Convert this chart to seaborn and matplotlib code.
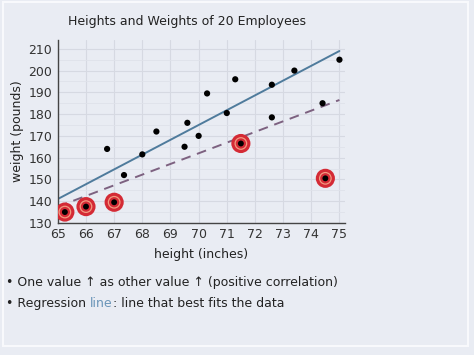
import matplotlib
matplotlib.use('Agg')
import matplotlib.pyplot as plt
import seaborn as sns
import pandas as pd
from matplotlib.patches import Rectangle
from matplotlib.ticker import MultipleLocator

# data
height_black = [66.75, 67.35, 68.0, 68.5, 69.5, 69.6, 70.0, 70.3, 71.0, 71.3,
                72.6, 72.6, 73.4, 74.4, 75.0]
weight_black = [164, 152, 161.5, 172, 165, 176, 170, 189.5, 180.5, 196,
                178.5, 193.5, 200, 185, 205]
height_red = [65.25, 66.0, 67.0, 71.5, 74.5]
weight_red = [135, 137.5, 139.5, 166.5, 150.5]
line_x = [65, 75]
solid_y = [141, 209]
dashed_y = [137.5, 186.5]

bg = '#e9ecf3'
sns.set_style('white')
plt.rcParams['font.family'] = ['DejaVu Sans']
fs = 9

fig = plt.figure(figsize=(4.74, 3.55), dpi=100, facecolor=bg)
ax = fig.add_axes([0.122, 0.372, 0.606, 0.515], facecolor=bg)

df_b = pd.DataFrame({'h': height_black, 'w': weight_black})
df_r = pd.DataFrame({'h': height_red, 'w': weight_red})
df_s = pd.DataFrame({'h': line_x, 'w': solid_y})
df_d = pd.DataFrame({'h': line_x, 'w': dashed_y})

sns.lineplot(data=df_s, x='h', y='w', color='#4f7b9c', lw=1.4, ax=ax)
sns.lineplot(data=df_d, x='h', y='w', color='#7d6180', lw=1.4, ax=ax,
             linestyle=(0, (5, 3.5)))

# circled points: red ring, pale ring, red, black dot
sns.scatterplot(data=df_r, x='h', y='w', s=190, color='#d42a35', edgecolor='none', ax=ax, zorder=3)
sns.scatterplot(data=df_r, x='h', y='w', s=85, color='#f29a80', edgecolor='none', ax=ax, zorder=4)
sns.scatterplot(data=df_r, x='h', y='w', s=55, color='#d42a35', edgecolor='none', ax=ax, zorder=5)
sns.scatterplot(data=df_r, x='h', y='w', s=18, color='black', edgecolor='none', ax=ax, zorder=6)
sns.scatterplot(data=df_b, x='h', y='w', s=20, color='black', edgecolor='none', ax=ax, zorder=6)

ax.set_xlim(65, 75.2)
ax.set_ylim(130, 214)
ax.set_xticks(range(65, 76))
ax.set_yticks(range(130, 211, 10))
ax.yaxis.set_minor_locator(MultipleLocator(5))
ax.grid(True, which='major', color='#d6d9e2', lw=0.8)
ax.grid(True, which='minor', axis='y', color='#dfe2ea', lw=0.6)
ax.set_axisbelow(True)
for s in ['top', 'right']:
    ax.spines[s].set_visible(False)
for s in ['left', 'bottom']:
    ax.spines[s].set_color('#444444')
    ax.spines[s].set_linewidth(1.0)
ax.tick_params(axis='both', which='major', direction='out', length=3, width=1,
               color='#444444', labelsize=fs, labelcolor='#333333', pad=1)
ax.tick_params(axis='y', which='minor', length=0)
ax.set_xlabel('height (inches)', fontsize=fs, color='#222222', labelpad=5)
ax.set_ylabel('weight (pounds)', fontsize=fs, color='#222222', labelpad=3)

fig.text(0.395, 0.94, 'Heights and Weights of 20 Employees', ha='center', va='center',
         fontsize=fs, color='#222222')

t1 = fig.text(0.013, 0.203, '\u2022 One value \u2191 as other value \u2191 (positive correlation)',
              ha='left', va='center', fontsize=fs, color='#222222')
t2 = fig.text(0.013, 0.145, '\u2022 Regression ', ha='left', va='center', fontsize=fs, color='#222222')
fig.canvas.draw()
r = fig.canvas.get_renderer()
bb = t2.get_window_extent(r)
x2 = bb.x1 / fig.bbox.width
t3 = fig.text(x2, 0.145, 'line', ha='left', va='center', fontsize=fs, color='#6a95b8')
bb = t3.get_window_extent(r)
x3 = bb.x1 / fig.bbox.width
fig.text(x3, 0.145, ': line that best fits the data', ha='left', va='center', fontsize=fs, color='#222222')

# frame around the slide
fig.patches.append(Rectangle((0.006, 0.025), 0.982, 0.97, transform=fig.transFigure,
                             fill=False, edgecolor='#f8f9fc', lw=1.5))

fig.savefig('out.png', dpi=100, facecolor=bg)
